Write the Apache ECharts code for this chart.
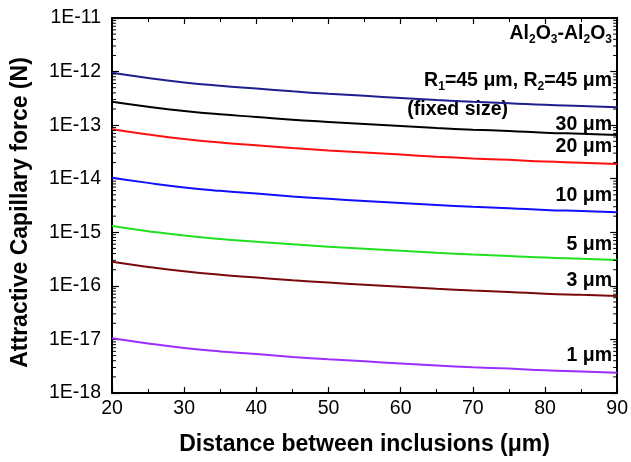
<!DOCTYPE html>
<html>
<head>
<meta charset="utf-8">
<script src="https://cdn.jsdelivr.net/npm/echarts@6/dist/echarts.min.js"></script>
<style>html,body{margin:0;padding:0;background:#fff}#c{width:631px;height:462px}</style>
</head>
<body>
<div id="c"></div>
<script>
const distances = [20, 25, 30, 35, 40, 45, 50, 55, 60, 65, 70, 75, 80, 85, 90];
const r45 = [9.53e-13, 7.62e-13, 6.28e-13, 5.42e-13, 4.81e-13, 4.27e-13, 3.85e-13, 3.52e-13, 3.21e-13, 2.94e-13, 2.73e-13, 2.57e-13, 2.39e-13, 2.27e-13, 2.15e-13];
const r30 = [2.74e-13, 2.21e-13, 1.84e-13, 1.59e-13, 1.42e-13, 1.26e-13, 1.15e-13, 1.05e-13, 9.64e-14, 8.84e-14, 8.24e-14, 7.78e-14, 7.24e-14, 6.89e-14, 6.55e-14];
const r20 = [8.36e-14, 6.68e-14, 5.51e-14, 4.74e-14, 4.21e-14, 3.74e-14, 3.37e-14, 3.08e-14, 2.82e-14, 2.58e-14, 2.39e-14, 2.25e-14, 2.09e-14, 1.99e-14, 1.88e-14];
const r10 = [1.045e-14, 8.36e-15, 6.89e-15, 5.94e-15, 5.27e-15, 4.68e-15, 4.22e-15, 3.85e-15, 3.52e-15, 3.23e-15, 2.99e-15, 2.82e-15, 2.62e-15, 2.49e-15, 2.36e-15];
const r5 = [1.31e-15, 1.05e-15, 8.69e-16, 7.52e-16, 6.68e-16, 5.96e-16, 5.37e-16, 4.92e-16, 4.51e-16, 4.13e-16, 3.84e-16, 3.62e-16, 3.37e-16, 3.20e-16, 3.04e-16];
const r3 = [2.82e-16, 2.26e-16, 1.87e-16, 1.61e-16, 1.43e-16, 1.27e-16, 1.15e-16, 1.05e-16, 9.62e-17, 8.81e-17, 8.18e-17, 7.71e-17, 7.16e-17, 6.79e-17, 6.46e-17];
const r1 = [1.05e-17, 8.41e-18, 6.93e-18, 5.98e-18, 5.32e-18, 4.72e-18, 4.26e-18, 3.90e-18, 3.56e-18, 3.27e-18, 3.03e-18, 2.86e-18, 2.65e-18, 2.52e-18, 2.39e-18];
const seriesNames = ['45 μm', '30 μm', '20 μm', '10 μm', '5 μm', '3 μm', '1 μm'];
const seriesColors = ['#1f1f8f', '#000000', '#ff1010', '#1010ff', '#20e020', '#7a0a0a', '#9a30ff'];
const seriesData = [r45, r30, r20, r10, r5, r3, r1];
const xMin = 20, xMax = 90;
const yMinExp = -18, yMaxExp = -11;

const minorVals = [];
for (let e = yMinExp; e < yMaxExp; e++) {
  for (let m = 2; m <= 9; m++) minorVals.push(m * Math.pow(10, e));
}

const FONT = '"Liberation Sans", Arial, Helvetica, sans-serif';
const chart = echarts.init(document.getElementById('c'), null, {renderer: 'canvas'});

const lineSeries = seriesData.map((arr, i) => ({
  name: seriesNames[i],
  type: 'line',
  smooth: true,
  showSymbol: false,
  symbol: 'none',
  data: distances.map((d, j) => [d, arr[j]]),
  lineStyle: {color: seriesColors[i], width: 2},
  itemStyle: {color: seriesColors[i]},
  z: 3
}));

const minorTickSeries = {
  type: 'custom',
  data: minorVals.map(v => [xMin, v]),
  clip: false,
  silent: true,
  z: 5,
  renderItem: function (params, api) {
    const v = api.value(1);
    const pl = api.coord([xMin, v]);
    const pr = api.coord([xMax, v]);
    return {
      type: 'group',
      children: [
        {type: 'line', shape: {x1: pl[0], y1: pl[1], x2: pl[0] + 4, y2: pl[1]}, style: {stroke: '#000', lineWidth: 1}},
        {type: 'line', shape: {x1: pr[0], y1: pr[1], x2: pr[0] - 4, y2: pr[1]}, style: {stroke: '#000', lineWidth: 1}}
      ]
    };
  }
};

const AFS = 19.5;
const annoStyle = {fontFamily: FONT, fontWeight: 'bold', fontSize: AFS, fill: '#000'};
function anno(text, right, y) {
  return {type: 'text', right: right, top: y, style: Object.assign({text: text}, annoStyle)};
}
const subRich = {s: {fontFamily: FONT, fontWeight: 'bold', fontSize: 12, padding: [11, 0, 0, 0]}};

const option = {
  backgroundColor: '#fff',
  animation: false,
  grid: {left: 112, right: 13, top: 18, bottom: 69},
  xAxis: [{
    type: 'value', min: xMin, max: xMax, interval: 10,
    name: 'Distance between inclusions (μm)', nameLocation: 'middle', nameGap: 40,
    nameTextStyle: {fontFamily: FONT, fontWeight: 'bold', fontSize: 23, color: '#000'},
    axisLine: {show: true, onZero: false, lineStyle: {color: '#000', width: 2}},
    axisTick: {show: true, inside: true, length: 6, lineStyle: {color: '#000', width: 1.2}},
    minorTick: {show: true, splitNumber: 2, length: 4, lineStyle: {color: '#000', width: 1}},
    axisLabel: {fontFamily: FONT, fontSize: 19.5, color: '#000', margin: 6},
    splitLine: {show: false}
  }, {
    type: 'value', position: 'top', min: xMin, max: xMax, interval: 10,
    axisLine: {show: true, onZero: false, lineStyle: {color: '#000', width: 2}},
    axisTick: {show: true, inside: true, length: 6, lineStyle: {color: '#000', width: 1.2}},
    minorTick: {show: true, splitNumber: 2, length: 4, lineStyle: {color: '#000', width: 1}},
    axisLabel: {show: false},
    splitLine: {show: false}
  }],
  yAxis: [{
    type: 'log', logBase: 10, min: Math.pow(10, yMinExp), max: Math.pow(10, yMaxExp), splitNumber: 7,
    name: 'Attractive Capillary force (N)', nameLocation: 'middle', nameGap: 80, nameRotate: 90,
    nameTextStyle: {fontFamily: FONT, fontWeight: 'bold', fontSize: 23, color: '#000', padding: [0, 14, 0, 0]},
    axisLine: {show: true, onZero: false, lineStyle: {color: '#000', width: 2}},
    axisTick: {show: true, inside: true, length: 7, lineStyle: {color: '#000', width: 1.2}},
    axisLabel: {fontFamily: FONT, fontSize: 19.5, color: '#000', margin: 11,
      formatter: function (v) { return '1E' + Math.round(Math.log10(v)); }},
    splitLine: {show: false}
  }, {
    type: 'log', logBase: 10, position: 'right', min: Math.pow(10, yMinExp), max: Math.pow(10, yMaxExp), splitNumber: 7,
    axisLine: {show: true, onZero: false, lineStyle: {color: '#000', width: 2}},
    axisTick: {show: true, inside: true, length: 7, lineStyle: {color: '#000', width: 1.2}},
    axisLabel: {show: false},
    splitLine: {show: false}
  }],
  series: lineSeries.concat([minorTickSeries]),
  graphic: [
    {
      type: 'text', right: 19, top: 24,
      style: {text: 'Al{s|2}O{s|3}-Al{s|2}O{s|3}', fontFamily: FONT, fontWeight: 'bold', fontSize: 19.5, fill: '#000', rich: subRich}
    },
    {
      type: 'text', right: 19, top: 71,
      style: {text: 'R{s|1}=45 μm, R{s|2}=45 μm', fontFamily: FONT, fontWeight: 'bold', fontSize: AFS, fill: '#000', rich: subRich}
    },
    anno('(fixed size)', 123, 100),
    anno('30 μm', 19, 115),
    anno('20 μm', 19, 137),
    anno('10 μm', 19, 186),
    anno('5 μm', 19, 235),
    anno('3 μm', 19, 271),
    anno('1 μm', 19, 346)
  ]
};
chart.setOption(option);
</script>
</body>
</html>
